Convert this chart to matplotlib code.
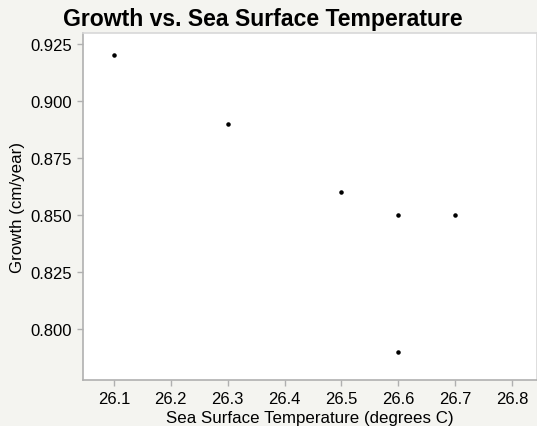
import matplotlib.pyplot as plt

temperature = [26.1, 26.3, 26.5, 26.6, 26.7, 26.6]
growth = [0.92, 0.89, 0.86, 0.85, 0.85, 0.79]
x_ticks = [26.1, 26.2, 26.3, 26.4, 26.5, 26.6, 26.7, 26.8]
y_ticks = [0.800, 0.825, 0.850, 0.875, 0.900, 0.925]

plt.rcParams['font.family'] = ['Liberation Sans', 'DejaVu Sans']

fig = plt.figure(figsize=(5.37, 4.27), dpi=100, facecolor='#f4f4f0')
ax = fig.add_axes([0.1546, 0.1077, 0.8454, 0.8127])
ax.set_facecolor('white')

ax.scatter(temperature, growth, s=5, color='black', zorder=3)

ax.set_xlim(26.0456, 26.844)
ax.set_ylim(0.7776, 0.9298)
ax.set_xticks(x_ticks)
ax.set_xticklabels([f'{v:.1f}' for v in x_ticks])
ax.set_yticks(y_ticks)
ax.set_yticklabels([f'{v:.3f}' for v in y_ticks])

ax.tick_params(direction='out', length=4, width=1, color='#b0b0b0', labelsize=12, pad=4)
for side in ['left', 'bottom']:
    ax.spines[side].set_color('#b0b0b0')
    ax.spines[side].set_linewidth(1.2)
for side in ['top', 'right']:
    ax.spines[side].set_color('#d8d8d8')
    ax.spines[side].set_linewidth(1.2)

ax.set_xlabel('Sea Surface Temperature (degrees C)', fontsize=12.2, labelpad=3)
ax.set_ylabel('Growth (cm/year)', fontsize=12.2, labelpad=4)
fig.text(0.489, 0.955, 'Growth vs. Sea Surface Temperature', fontsize=16.6, fontweight='bold',
         ha='center', va='center')

fig.savefig('out.png', dpi=100, facecolor=fig.get_facecolor())
